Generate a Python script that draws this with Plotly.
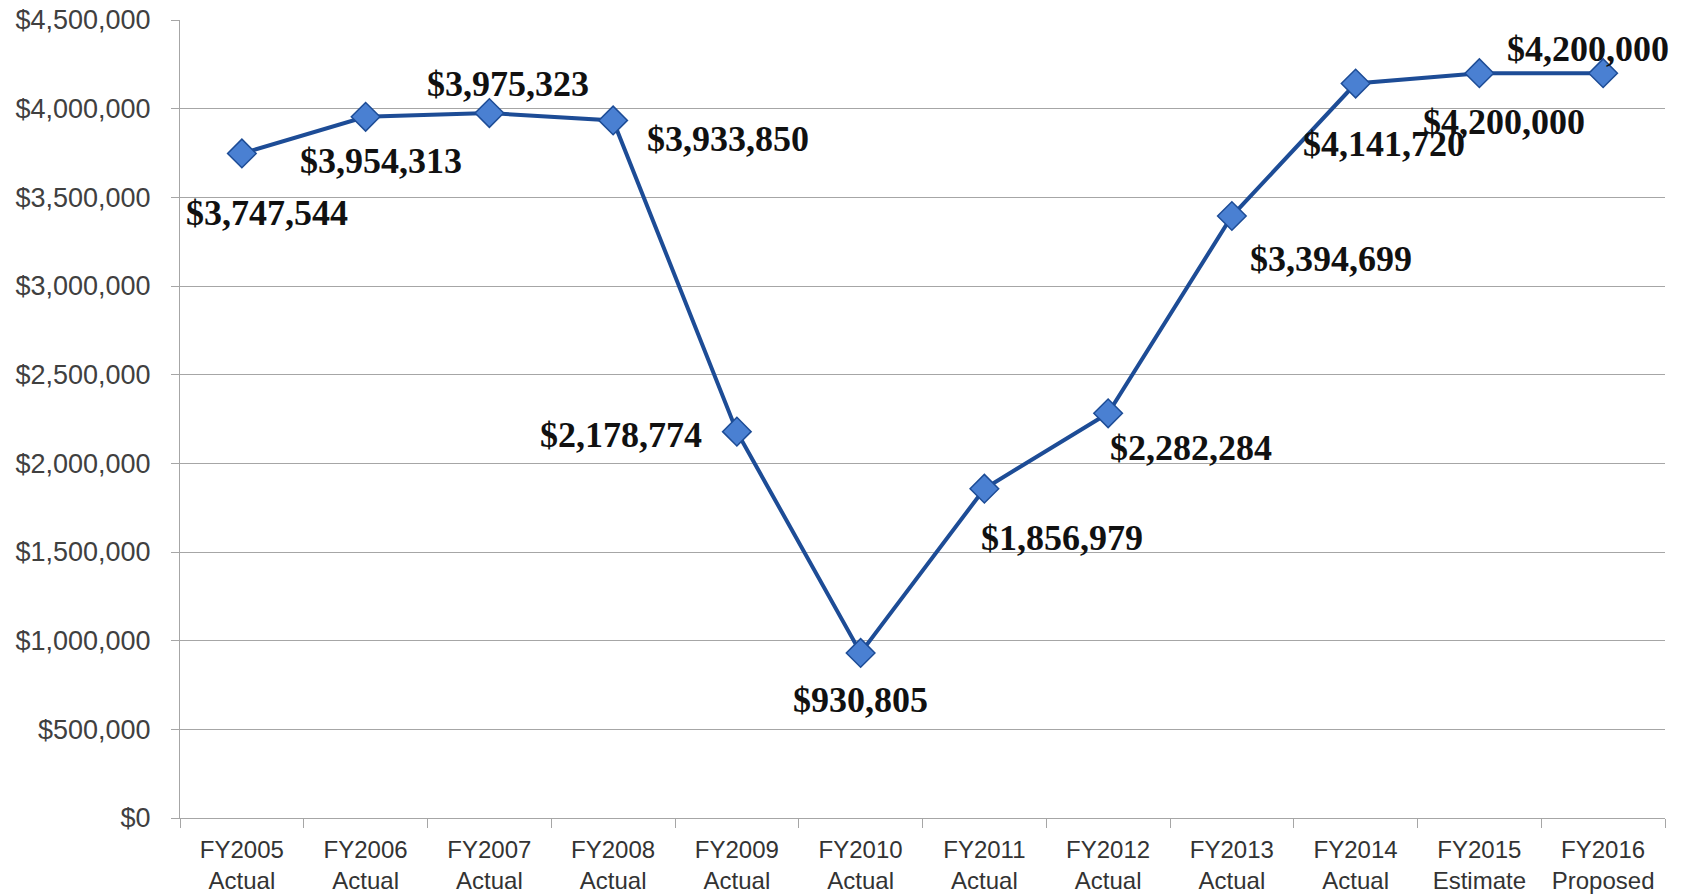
import plotly.graph_objects as go

# fiscal years and spending values
years = ["FY2005", "FY2006", "FY2007", "FY2008", "FY2009", "FY2010",
         "FY2011", "FY2012", "FY2013", "FY2014", "FY2015", "FY2016"]
kinds = ["Actual", "Actual", "Actual", "Actual", "Actual", "Actual",
         "Actual", "Actual", "Actual", "Actual", "Estimate", "Proposed"]
amounts = [3747544, 3954313, 3975323, 3933850, 2178774, 930805,
           1856979, 2282284, 3394699, 4141720, 4200000, 4200000]

# pixel offsets of each data label from its marker (x, y up)
label_shift = [(25, -60), (15, -44), (19, 29), (115, -19), (-116, -3), (0, -47),
               (78, -49), (83, -35), (99, -43), (28, -60), (25, -49), (-15, 24)]

cats = [y + "<br>" + k for y, k in zip(years, kinds)]

fig = go.Figure()
fig.add_trace(go.Scatter(
    x=cats, y=amounts,
    mode="lines+markers",
    line=dict(color="#1d4c96", width=4),
    marker=dict(symbol="diamond", size=22, color="#4a80d2",
                line=dict(color="#1d4c96", width=1.5)),
    showlegend=False,
))

# data labels
for c, v, (dx, dy) in zip(cats, amounts, label_shift):
    fig.add_annotation(x=c, y=v, text="${:,}".format(v), showarrow=False,
                       xshift=dx, yshift=dy,
                       font=dict(family="Liberation Serif", size=36, color="#111111",
                                 weight="bold"))

# page body adds 8px, so margins are set to land the plot at x 180-1665, y 20-818
fig.update_layout(
    width=1686, height=895,
    margin=dict(l=172, r=29, t=12, b=85),
    plot_bgcolor="white", paper_bgcolor="white",
)
fig.update_yaxes(range=[0, 4500000], dtick=500000, tickprefix="$", tickformat=",",
                 automargin=False, ticklabeloverflow="allow",
                 showgrid=True, gridcolor="#a6a6a6", gridwidth=1,
                 showline=True, linecolor="#a6a6a6", linewidth=1,
                 ticks="outside", ticklen=8, tickcolor="#a6a6a6",
                 ticklabelstandoff=15,
                 zeroline=False,
                 tickfont=dict(family="Liberation Sans", size=27, color="#404040"))
fig.update_xaxes(range=[-0.5, len(cats) - 0.5],
                 showgrid=False, showline=True, linecolor="#a6a6a6", linewidth=1,
                 automargin=False, ticklabeloverflow="allow",
                 ticks="outside", ticklen=9, tickcolor="#a6a6a6", tickson="boundaries",
                 ticklabelstandoff=10,
                 tickfont=dict(family="Liberation Sans", size=24, color="#333333"))

fig.write_html("out.html")
